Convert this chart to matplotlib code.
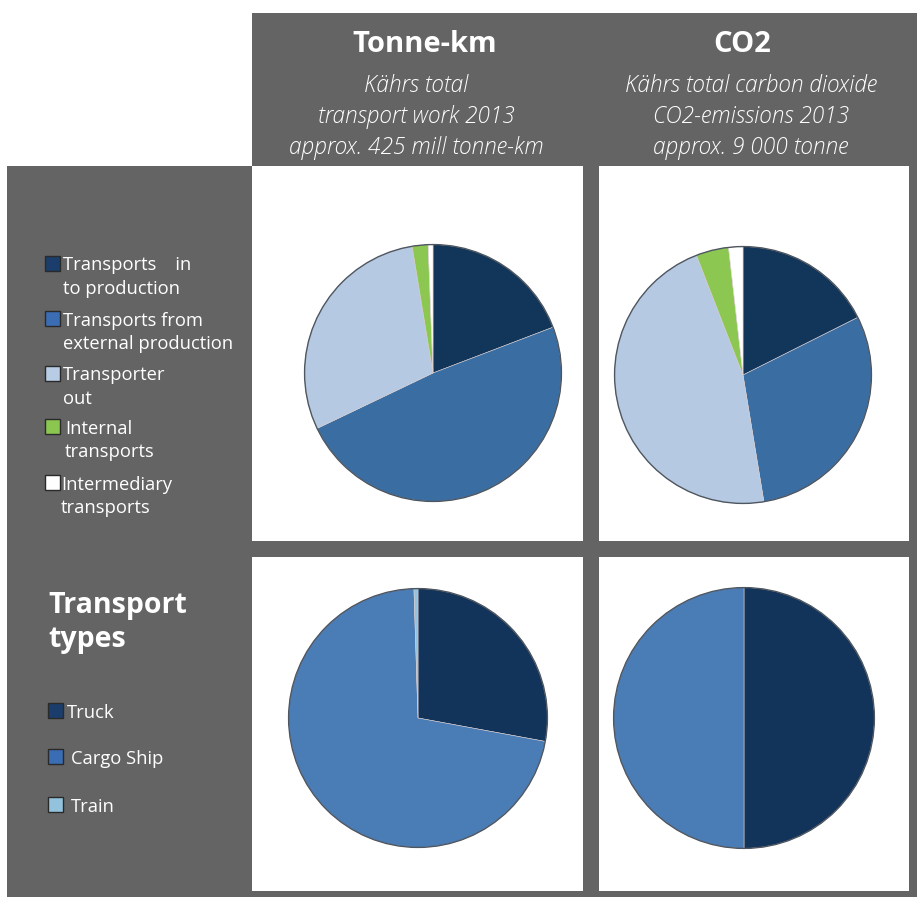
import matplotlib
matplotlib.use("Agg")
import matplotlib.pyplot as plt
from matplotlib.patches import Rectangle, Circle

# ---- data -------------------------------------------------------------
flow_labels = ["Transports    in\nto production",
               "Transports from\nexternal production",
               "Transporter\nout",
               "Internal\ntransports",
               "Intermediary\ntransports"]
flow_colors = ["#12355a", "#3a6ea3", "#b5c9e3", "#8cc751", "#ffffff"]
flow_swatch = ["#1a3d6b", "#3a6db3", "#b9cce5", "#8bc651", "#ffffff"]
tonnekm_flow = [19.2, 48.7, 29.5, 2.0, 0.6]
co2_flow = [17.6, 29.8, 46.7, 4.1, 1.8]

type_labels = ["Truck", "Cargo Ship", "Train"]
type_colors = ["#12335a", "#4a7cb6", "#92c2dc"]
type_swatch = ["#1a3d6b", "#3a6db3", "#92c2dc"]
tonnekm_type = [27.9, 71.6, 0.5]
co2_type = [50.0, 50.0, 0.0]

col_titles = ["Tonne-km", "CO2"]
col_subtitles = ["Kährs total\ntransport work 2013\napprox. 425 mill tonne-km",
                 "Kährs total carbon dioxide\nCO2-emissions 2013\napprox. 9 000 tonne"]
side_title = "Transport\ntypes"

# ---- canvas -----------------------------------------------------------
W, H = 917, 897
plt.rcParams["font.family"] = ["Open Sans", "DejaVu Sans"]
fig = plt.figure(figsize=(W / 100, H / 100), dpi=100)
fig.patch.set_facecolor("white")
bg = fig.add_axes([0, 0, 1, 1])
bg.set_xlim(0, W)
bg.set_ylim(H, 0)
bg.axis("off")

GRAY = "#646464"
bg.add_patch(Rectangle((7, 166), W - 7, H - 166, color=GRAY, lw=0))
bg.add_patch(Rectangle((252, 13), W - 252, 153, color=GRAY, lw=0))

panels = [(252, 166, 583, 541), (599, 166, 909, 541),
          (252, 557, 583, 891), (599, 557, 909, 891)]
for x0, y0, x1, y1 in panels:
    bg.add_patch(Rectangle((x0, y0), x1 - x0, y1 - y0, color="white", lw=0))

# ---- column headers ---------------------------------------------------
title_x = [425, 742]
sub_x = [416, 751]
for tx, sx, t, s in zip(title_x, sub_x, col_titles, col_subtitles):
    bg.text(tx, 45, t, color="white", fontsize=21, fontweight="bold",
            ha="center", va="center")
    for i, line in enumerate(s.split("\n")):
        bg.text(sx, 86 + 31 * i, line, color="white", fontsize=16.3,
                style="italic", fontweight="light", ha="center", va="center")


# ---- pies -------------------------------------------------------------
def pie_at(cx, cy, r, values, colors):
    ax = fig.add_axes([(cx - r) / W, 1 - (cy + r) / H, 2 * r / W, 2 * r / H])
    vals = [v for v in values if v > 0]
    cols = [c for v, c in zip(values, colors) if v > 0]
    ax.pie(vals, colors=cols, startangle=90, counterclock=False, radius=1,
           wedgeprops=dict(linewidth=0.4, edgecolor="#d9cccc"))
    ax.add_patch(Circle((0, 0), 1, fill=False, ec="#4e5660", lw=1.0))
    ax.set_xlim(-1.02, 1.02)
    ax.set_ylim(-1.02, 1.02)
    ax.set_aspect("auto")
    ax.axis("off")


pie_at(433, 373, 131, tonnekm_flow, flow_colors)
pie_at(743, 375, 131, co2_flow, flow_colors)
pie_at(418, 718, 132, tonnekm_type, type_colors)
pie_at(744, 718, 133, co2_type, type_colors)

# ---- legends ----------------------------------------------------------
flow_rows = [(264, 63), (319, 63), (374, 63), (427, 65), (483, 61)]
for (yc, tx), lab, col in zip(flow_rows, flow_labels, flow_swatch):
    bg.add_patch(Rectangle((45, yc - 7.5), 15, 15, fc=col, ec="#2a2a2a", lw=1))
    l1, l2 = lab.split("\n")
    bg.text(tx, yc + 1.5, l1, color="white", fontsize=13.2, ha="left", va="center")
    bg.text(tx, yc + 25, l2, color="white", fontsize=13.2, ha="left", va="center")

for i, line in enumerate(side_title.split("\n")):
    bg.text(48, 606 + 33 * i, line, color="white", fontsize=20.5,
            fontweight="bold", ha="left", va="center")

type_rows = [(711, 67), (757, 71), (805, 71)]
for (yc, tx), lab, col in zip(type_rows, type_labels, type_swatch):
    bg.add_patch(Rectangle((48, yc - 7.5), 15, 15, fc=col, ec="#2a2a2a", lw=1))
    bg.text(tx, yc + 1.5, lab, color="white", fontsize=13.2, ha="left", va="center")

fig.savefig("out.png", dpi=100, facecolor="white")
